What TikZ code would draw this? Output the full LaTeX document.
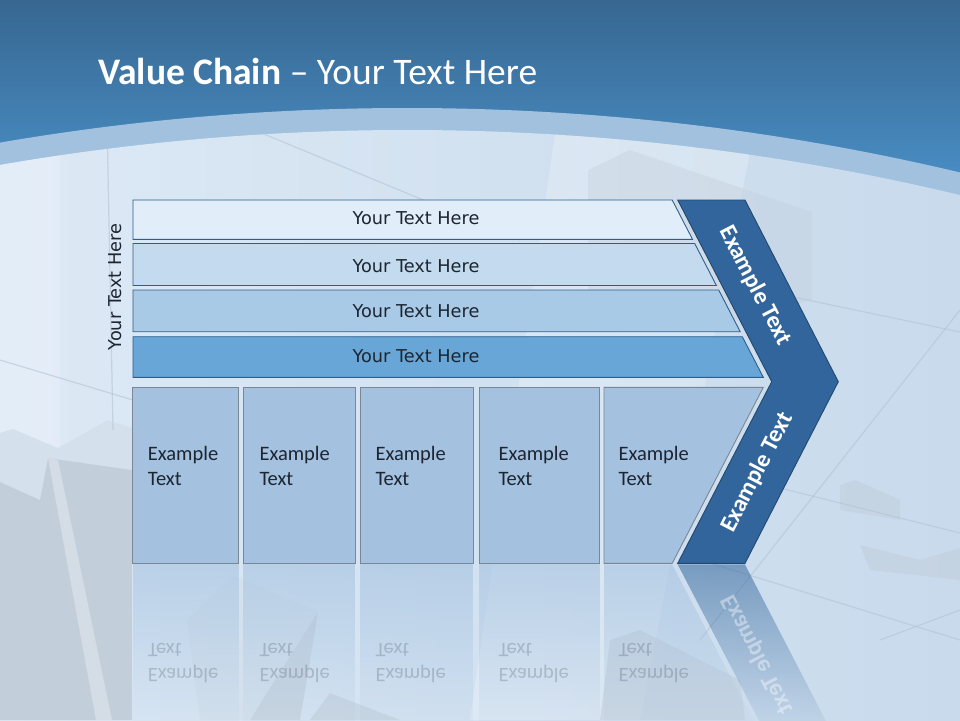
\documentclass[tikz,border=0pt]{standalone}
\usepackage{fontspec}
\setmainfont{Carlito}
\newfontfamily\dv{DejaVu Sans}
\usetikzlibrary{fadings}
\definecolor{hdtop}{HTML}{376791}
\definecolor{hdbot}{HTML}{4D96CF}
\definecolor{band}{HTML}{A1C1DF}
\definecolor{bgA}{HTML}{DDE9F5}
\definecolor{bgB}{HTML}{C8DAEC}
\definecolor{rowA}{HTML}{E1EDF8}
\definecolor{rowB}{HTML}{C4DBEF}
\definecolor{rowC}{HTML}{A9CAE7}
\definecolor{rowD}{HTML}{68A6D7}
\definecolor{rowline}{HTML}{2F5E8C}
\definecolor{boxfill}{HTML}{A4C2E0}
\definecolor{boxline}{HTML}{7A8794}
\definecolor{chev}{HTML}{31659B}
\definecolor{chevline}{HTML}{22496F}
\definecolor{txt}{HTML}{1C2530}
\definecolor{slab}{HTML}{C2CEDA}
\definecolor{slabtop}{HTML}{D4E0EC}
\definecolor{faint}{HTML}{B3C4D5}
\tikzfading[name=reflfade, top color=transparent!40, bottom color=transparent!100]
\tikzfading[name=reflfadeB, top color=transparent!45, bottom color=transparent!100]
\begin{document}
\begin{tikzpicture}[x=1pt,y=-1pt,
  rowshape/.style={draw=rowline, line width=0.9pt},
  rowtext/.style={font=\dv\fontsize{17.7}{21}\selectfont, text=txt},
  boxshape/.style={draw=boxline, line width=0.9pt, fill=boxfill},
  boxtext/.style={font=\fontsize{20.5}{25}\selectfont, text=txt, align=left, anchor=west, inner sep=0pt},
  chevtext/.style={font=\bfseries\fontsize{24}{28}\selectfont, text=white, inner sep=0pt},
  reflbox/.style={fill=boxfill, path fading=reflfade, fit fading=true},
  refltext/.style={font=\fontsize{20.5}{25}\selectfont, text=txt, text opacity=0.2, align=left, anchor=west, inner sep=0pt},
  decor/.style={fill=slab, fill opacity=0.55},
  fline/.style={draw=faint, line width=1.2pt, draw opacity=0.6}]
\useasboundingbox (0,0) rectangle (960,720);
\begin{scope}
\clip (0,0) rectangle (960,720);
% header
\shade[top color=hdtop, bottom color=hdbot] (0,0) rectangle (960,220);
\fill[band] (407,2492) circle (2384);
\clip (407,2492) circle (2362);
\shade[left color=bgA, right color=bgB] (0,100) rectangle (960,720);
% background decoration
\fill[white, fill opacity=0.2] (0,100) rectangle (60,720);
\fill[white, fill opacity=0.22] (560,100) -- (760,100) -- (640,720) -- (470,720) -- cycle;
\fill[decor, fill opacity=0.35] (588,170) -- (630,150) -- (812,212) -- (812,300) -- (700,330) -- (588,300) -- cycle;
\fill[slabtop] (0,433) -- (13,429) -- (58,448) -- (108,420) -- (132,428) -- (132,470) -- (48,458) -- (40,500) -- (0,482) -- cycle;
\fill[slab] (0,482) -- (40,500) -- (48,458) -- (132,470) -- (132,720) -- (0,720) -- cycle;
\fill[white, fill opacity=0.3] (48,458) -- (58,460) -- (112,720) -- (96,720) -- cycle;
\fill[slabtop, fill opacity=0.8] (187,620) -- (232,575) -- (318,612) -- (300,720) -- (200,720) -- cycle;
\fill[slab, fill opacity=0.6] (318,612) -- (300,720) -- (250,720) -- cycle;
\fill[slab, fill opacity=0.6] (310,720) -- (330,693) -- (400,720) -- cycle;
\fill[slab, fill opacity=0.6] (610,640) -- (640,630) -- (740,680) -- (745,720) -- (600,720) -- cycle;
\fill[slab, fill opacity=0.5] (840,485) -- (855,480) -- (900,500) -- (900,520) -- (840,510) -- cycle;
\fill[slab, fill opacity=0.5] (860,545) -- (920,560) -- (960,548) -- (960,580) -- (870,570) -- cycle;
\draw[fline] (760,290) -- (960,332);
\draw[fline] (960,310) -- (700,640);
\draw[fline] (760,483) -- (960,533);
\draw[fline] (107,120) -- (113,430);
\draw[fline] (230,120) -- (520,240);
\draw[fline] (0,360) -- (133,400);
\draw[fline] (880,640) -- (960,610);
\draw[fline] (700,560) -- (960,640);
\end{scope}
% title
\node[anchor=base west, text=white, font=\fontsize{37.5}{44}\selectfont, inner sep=0pt] (title) at (98,84) {\textbf{Value Chain} – Your Text Here};
% rows
\path[rowshape, fill=rowA] (133,200) -- (672.2,200) -- (692.5,239.3) -- (133,239.3) -- cycle;
\path[rowshape, fill=rowB] (133,243.5) -- (694.7,243.5) -- (716.4,285.5) -- (133,285.5) -- cycle;
\path[rowshape, fill=rowC] (133,290) -- (718.7,290) -- (740.2,331.7) -- (133,331.7) -- cycle;
\path[rowshape, fill=rowD] (133,336.7) -- (742.3,336.7) -- (763.3,377.3) -- (133,377.3) -- cycle;
\node[rowtext] (r1) at (416,218.5) {Your Text Here};
\node[rowtext] (r2) at (416,266) {Your Text Here};
\node[rowtext] (r3) at (416,311) {Your Text Here};
\node[rowtext] (r4) at (416,356) {Your Text Here};
\node[rowtext, rotate=90] (side) at (115,287) {Your Text Here};
% boxes
\path[boxshape] (132.5,387.3) rectangle (238.5,563.3);
\path[boxshape] (243.3,387.3) rectangle (355.3,563.3);
\path[boxshape] (360.3,387.3) rectangle (473.3,563.3);
\path[boxshape] (479,387.3) rectangle (599.5,563.3);
\path[boxshape] (604,387.3) -- (763.3,387.3) -- (672.2,563.3) -- (604,563.3) -- cycle;
\node[boxtext] (b1) at (147.7,466) {Example\\Text};
\node[boxtext] (b2) at (259.3,466) {Example\\Text};
\node[boxtext] (b3) at (375.3,466) {Example\\Text};
\node[boxtext] (b4) at (498.3,466) {Example\\Text};
\node[boxtext] (b5) at (618.3,466) {Example\\Text};
% chevron
\path[draw=chevline, line width=0.9pt, fill=chev] (677.7,200) -- (745,200) -- (838.3,381.7) -- (745,563.3) -- (677.7,563.3) -- (771.7,381.7) -- cycle;
\node[chevtext, rotate=-62.6] (c1) at (755,285.7) {Example Text};
\node[chevtext, rotate=62.6] (c2) at (757.3,472.3) {Example Text};
% reflections
\path[reflbox] (132.5,564.5) rectangle (238.5,740);
\path[reflbox] (243.3,564.5) rectangle (355.3,740);
\path[reflbox] (360.3,564.5) rectangle (473.3,740);
\path[reflbox] (479,564.5) rectangle (599.5,740);
\path[reflbox] (604,564.5) -- (672.2,564.5) -- (763.3,740) -- (604,740) -- cycle;
\path[fill=chev, path fading=reflfadeB, fit fading=true] (677.7,564.5) -- (745,564.5) -- (838.3,745) -- (771.7,745) -- cycle;
\node[refltext] (m1) at (147.7,661) {\scalebox{1}[-1]{\begin{tabular}[b]{@{}l@{}}Example\\Text\end{tabular}}};
\node[refltext] (m2) at (259.3,661) {\scalebox{1}[-1]{\begin{tabular}[b]{@{}l@{}}Example\\Text\end{tabular}}};
\node[refltext] (m3) at (375.3,661) {\scalebox{1}[-1]{\begin{tabular}[b]{@{}l@{}}Example\\Text\end{tabular}}};
\node[refltext] (m4) at (498.3,661) {\scalebox{1}[-1]{\begin{tabular}[b]{@{}l@{}}Example\\Text\end{tabular}}};
\node[refltext] (m5) at (618.3,661) {\scalebox{1}[-1]{\begin{tabular}[b]{@{}l@{}}Example\\Text\end{tabular}}};
\node[chevtext, text opacity=0.4, rotate=-62.6] (mc) at (757.3,654.3) {\scalebox{1}[-1]{Example Text}};
\end{tikzpicture}
\end{document}
